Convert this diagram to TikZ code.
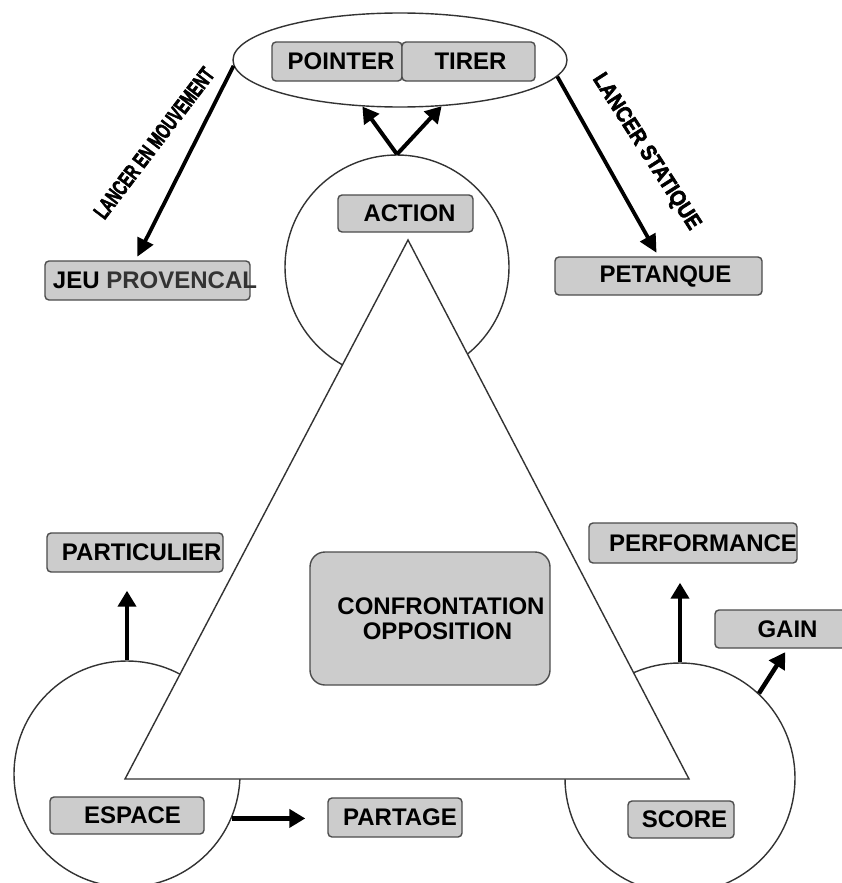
\documentclass[tikz,border=0pt]{standalone}
\usepackage{fontspec}
\setmainfont{Liberation Sans}
\newfontfamily\heavyfont{Liberation Sans Bold}[FakeBold=3]
\usetikzlibrary{shapes.geometric,arrows.meta}
\begin{document}
\begin{tikzpicture}[x=1bp,y=-1bp,
  outline/.style={draw=black!80, line width=1.4bp, fill=white},
  box/.style={draw=black!70, line width=1.4bp, fill=black!20, rounded corners=4bp, inner sep=0pt, font=\fontsize{24bp}{25bp}\selectfont\bfseries, text=black},
  arr/.style={line width=4.5bp, draw=black, -{Triangle[width=18bp,length=16bp]}},
  lanc/.style={line width=3.8bp, draw=black, -{Triangle[width=17bp,length=18bp]}},
  vlabel/.style={font=\fontsize{22bp}{22bp}\heavyfont, inner sep=0pt}]
\useasboundingbox (0,0) rectangle (842,883);
% shapes
\node[outline, ellipse, minimum width=334bp, minimum height=94bp, inner sep=0pt] (top) at (400,60) {};
\node[outline, circle, minimum size=224bp, inner sep=0pt] (act) at (397,267) {};
\node[outline, circle, minimum size=226bp, inner sep=0pt] (cl) at (127,774) {};
\node[outline, circle, minimum size=230bp, inner sep=0pt] (cr) at (680,778) {};
\coordinate (ta) at (408,240);
\coordinate (tb) at (125,779);
\coordinate (tc) at (689,779);
\draw[outline, line join=miter] (ta) -- (tb) -- (tc) -- cycle;
% boxes
\node[box, minimum width=130bp, minimum height=39bp] (pointer) at (337,61.5) {\hspace{8bp}POINTER};
\node[box, minimum width=133bp, minimum height=39bp] (tirer) at (468.5,61.5) {\hspace{4bp}TIRER};
\node[box, minimum width=135bp, minimum height=37bp] (action) at (405.5,213.5) {\hspace{8bp}ACTION};
\node[box, minimum width=205bp, minimum height=39bp] (jeu) at (147.5,280.5) {\makebox[189bp][l]{JEU {\color{black!80}PROVENCAL}}};
\node[box, minimum width=207bp, minimum height=38bp] (pet) at (658.5,276) {\hspace{14bp}PETANQUE};
\node[box, minimum width=176bp, minimum height=39bp] (part) at (135,552.5) {\makebox[146bp][l]{PARTICULIER}};
\node[box, minimum width=208bp, minimum height=40bp] (perf) at (693,543) {\makebox[168bp][l]{PERFORMANCE}};
\node[box, minimum width=145bp, minimum height=38bp] (gain) at (787.5,629) {GAIN};
\node[box, minimum width=240bp, minimum height=133bp, rounded corners=15bp, align=center] (conf) at (430,618.5) {\hspace{22bp}CONFRONTATION\\\hspace{15bp}OPPOSITION};
\node[box, minimum width=154bp, minimum height=37bp] (espace) at (127,815.5) {\hspace{11bp}ESPACE};
\node[box, minimum width=134bp, minimum height=39bp] (partage) at (395,817.5) {\hspace{10bp}PARTAGE};
\node[box, minimum width=106bp, minimum height=37bp] (score) at (681,819.5) {\hspace{7bp}SCORE};
% labels on the throw arrows
\node[vlabel, rotate=52.7] (lm) at (154,143) {\scalebox{0.66}[1]{LANCER EN MOUVEMENT}};
\node[vlabel, rotate=-57.3] (ls) at (646,152) {\scalebox{0.88}[1]{LANCER STATIQUE}};
% connectors
\draw[lanc, shorten >=4bp] (top.182) -- ([xshift=-12bp]jeu.north);
\draw[lanc, shorten >=4bp] (top.-6) -- (pet.north);
\draw[arr, line width=4bp] (act.north) -- (top.231);
\draw[arr, line width=4bp] (act.north) -- (top.312);
\draw[arr, shorten >=18bp] (cl.north) -- (cl.north |- part.south);
\draw[arr, shorten >=19bp] (cr.north) -- (cr.north |- perf.south);
\draw[arr, shorten >=4bp] (cr.47) -- (gain.south);
\draw[arr, shorten >=22bp] (cl.-23) -- (cl.-23 -| partage.west);
\end{tikzpicture}
\end{document}
